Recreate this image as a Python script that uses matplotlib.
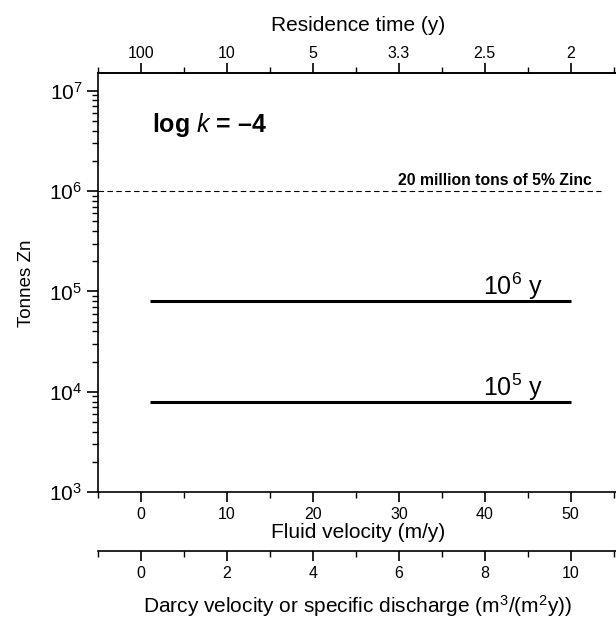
import numpy as np
import matplotlib.pyplot as plt
from matplotlib.ticker import LogLocator, MultipleLocator, FixedLocator, NullFormatter, FuncFormatter

plt.rcParams['font.family'] = ['Liberation Sans', 'DejaVu Sans']
plt.rcParams['mathtext.fontset'] = 'custom'
plt.rcParams['mathtext.rm'] = 'Liberation Sans'
plt.rcParams['mathtext.it'] = 'Liberation Sans:italic'
plt.rcParams['mathtext.bf'] = 'Liberation Sans:bold'

# data: fluid velocity (m/y) and tonnes Zn for two time spans
velocity = [1, 50]
tonnes_1e6 = [8e4, 8e4]
tonnes_1e5 = [8e3, 8e3]
ore_tonnes = 1e6

top_ticks = [0, 10, 20, 30, 40, 50]
top_labels = ['100', '10', '5', '3.3', '2.5', '2']
darcy_ticks = [0, 2, 4, 6, 8, 10]

fig = plt.figure(figsize=(6.16, 6.18), dpi=100)
ax = fig.add_axes([0.1596, 0.2034, 0.8420, 0.678])

ax.plot(velocity, tonnes_1e6, color='black', lw=2.2, solid_capstyle='butt')
ax.plot(velocity, tonnes_1e5, color='black', lw=2.2, solid_capstyle='butt')
ax.plot([-5, 53.5], [ore_tonnes, ore_tonnes], color='black', lw=0.8, ls=(0, (5, 3)))

ax.set_yscale('log')
ax.set_ylim(1e3, 10**7.173)
ax.set_xlim(-5, 55.4)
ax.yaxis.set_major_locator(LogLocator(base=10, numticks=10))
ax.yaxis.set_major_formatter(FuncFormatter(lambda y, p: r'$\mathregular{10^{%d}}$' % round(np.log10(y))))
ax.yaxis.set_minor_locator(LogLocator(base=10, subs=np.arange(2, 10), numticks=10))
ax.yaxis.set_minor_formatter(NullFormatter())
ax.xaxis.set_major_locator(MultipleLocator(10))
ax.xaxis.set_minor_locator(MultipleLocator(5))

ax.tick_params(which='major', length=7, width=1.2, labelsize=11.5, direction='out')
ax.tick_params(axis='y', which='major', labelsize=15, length=8)
ax.tick_params(which='minor', length=4, width=1, direction='out')
for s in ax.spines.values():
    s.set_linewidth(1.2)

ax.set_ylabel('Tonnes Zn', fontsize=13.5, labelpad=10)
ax.set_xlabel('Fluid velocity (m/y)', fontsize=15, labelpad=1)

# top axis: residence time
top = ax.secondary_xaxis('top')
top.set_xticks(top_ticks)
top.set_xticklabels(top_labels)
top.xaxis.set_minor_locator(MultipleLocator(5))
top.tick_params(which='major', length=7, width=1.2, labelsize=11.5, pad=2)
top.tick_params(which='minor', length=4, width=1)
top.spines['top'].set_linewidth(1.2)
top.set_xlabel('Residence time (y)', fontsize=15, labelpad=11)

# second bottom axis: Darcy velocity (porosity 0.2)
darcy = ax.secondary_xaxis(-0.141, functions=(lambda v: v / 5, lambda d: d * 5))
darcy.xaxis.set_major_locator(FixedLocator(darcy_ticks))
darcy.xaxis.set_minor_locator(MultipleLocator(1))
darcy.tick_params(which='major', length=7, width=1.2, labelsize=11.5)
darcy.tick_params(which='minor', length=4, width=1)
darcy.spines['bottom'].set_linewidth(1.2)
darcy.set_xlabel('Darcy velocity or specific discharge (m$^3$/(m$^2$y))', fontsize=15, labelpad=9)

ax.text(1.2, 3.9e6, r'log $\mathbf{\mathit{k}}$ = –4', fontsize=18, fontweight='bold')
ax.text(52.5, 1.15e6, '20 million tons of 5% Zinc', fontsize=11.3, fontweight='bold', ha='right')
ax.text(43.3, 9.2e4, r'10$^6$ y', fontsize=18, ha='center')
ax.text(43.3, 9.2e3, r'10$^5$ y', fontsize=18, ha='center')

fig.savefig('out.png', dpi=100)
